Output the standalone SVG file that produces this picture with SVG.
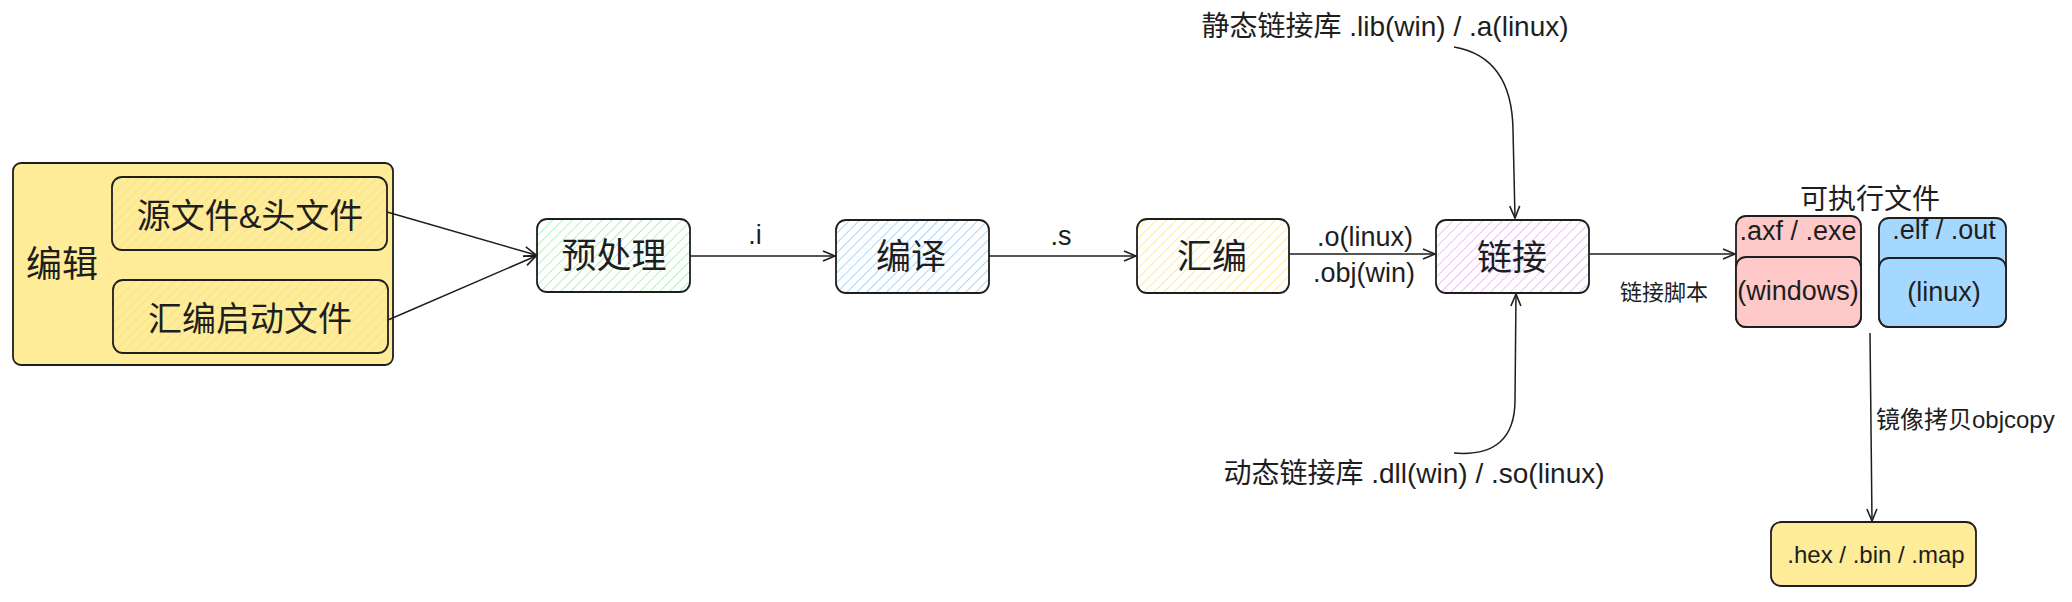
<svg xmlns="http://www.w3.org/2000/svg" width="2072" height="602" viewBox="0 0 2072 602">
<defs>
<style>
.t{font-family:"Liberation Sans","Noto Sans CJK SC",sans-serif;fill:#1e1e1e}
.box{stroke:#1e1e1e;stroke-width:1.8}
.c{fill:none;stroke:#1e1e1e;stroke-width:1.5}
</style>
<pattern id="hg" width="7" height="7" patternUnits="userSpaceOnUse" patternTransform="rotate(45)"><rect width="7" height="7" fill="#fff"/><line x1="0" y1="0" x2="0" y2="7" stroke="#b2f2bb" stroke-width="2"/></pattern>
<pattern id="hb" width="7" height="7" patternUnits="userSpaceOnUse" patternTransform="rotate(45)"><rect width="7" height="7" fill="#fff"/><line x1="0" y1="0" x2="0" y2="7" stroke="#a5d8ff" stroke-width="2"/></pattern>
<pattern id="hy" width="7" height="7" patternUnits="userSpaceOnUse" patternTransform="rotate(45)"><rect width="7" height="7" fill="#fff"/><line x1="0" y1="0" x2="0" y2="7" stroke="#ffec99" stroke-width="2"/></pattern>
<pattern id="hp" width="7" height="7" patternUnits="userSpaceOnUse" patternTransform="rotate(45)"><rect width="7" height="7" fill="#fff"/><line x1="0" y1="0" x2="0" y2="7" stroke="#eebefa" stroke-width="2"/></pattern>
<pattern id="hyy" width="7" height="7" patternUnits="userSpaceOnUse" patternTransform="rotate(45)"><rect width="7" height="7" fill="#ffec99"/><line x1="0" y1="0" x2="0" y2="7" stroke="#f3df88" stroke-width="1.5"/></pattern>
<marker id="arr" markerWidth="16" markerHeight="14" viewBox="-14 -7 16 14" refX="0" refY="0" orient="auto" markerUnits="userSpaceOnUse"><path d="M-12,-5 L0,0 L-12,5" fill="none" stroke="#1e1e1e" stroke-width="1.6"/></marker>
</defs>
<rect width="2072" height="602" fill="#fff"/>

<g id="edit">
<rect class="box" x="13" y="163" width="380" height="202" rx="8" fill="#ffec99"/>
<text class="t" x="62" y="277" font-size="36" text-anchor="middle">编辑</text>
</g>
<g id="src">
<rect class="box" x="112" y="177" width="275" height="73" rx="10" fill="url(#hyy)"/>
<text class="t" x="250" y="228" font-size="34" text-anchor="middle">源文件&amp;头文件</text>
</g>
<g id="asmstart">
<rect class="box" x="113" y="280" width="275" height="73" rx="10" fill="url(#hyy)"/>
<text class="t" x="250" y="331" font-size="34" text-anchor="middle">汇编启动文件</text>
</g>
<g id="preprocess">
<rect class="box" x="537" y="219" width="153" height="73" rx="10" fill="url(#hg)"/>
<text class="t" x="614" y="268" font-size="35" text-anchor="middle">预处理</text>
</g>
<g id="compile">
<rect class="box" x="836" y="220" width="153" height="73" rx="10" fill="url(#hb)"/>
<text class="t" x="911" y="269" font-size="35" text-anchor="middle">编译</text>
</g>
<g id="assemble">
<rect class="box" x="1137" y="219" width="152" height="74" rx="10" fill="url(#hy)"/>
<text class="t" x="1212" y="269" font-size="35" text-anchor="middle">汇编</text>
</g>
<g id="link">
<rect class="box" x="1436" y="220" width="153" height="73" rx="10" fill="url(#hp)"/>
<text class="t" x="1512" y="270" font-size="35" text-anchor="middle">链接</text>
</g>
<g id="exe-label">
<text class="t" x="1870" y="209" font-size="28" text-anchor="middle">可执行文件</text>
</g>
<g id="axf">
<rect class="box" x="1736" y="216" width="125" height="111" rx="10" fill="#ffc9c9"/>
<rect class="box" x="1736" y="257" width="125" height="70" rx="10" fill="#ffc9c9"/>
<text class="t" x="1798" y="240" font-size="27" text-anchor="middle">.axf / .exe</text>
<text class="t" x="1798" y="300" font-size="27" text-anchor="middle">(windows)</text>
</g>
<g id="elf">
<rect class="box" x="1879" y="218" width="127" height="109" rx="10" fill="#a5d8ff"/>
<rect class="box" x="1879" y="258" width="127" height="69" rx="10" fill="#a5d8ff"/>
<text class="t" x="1944" y="239" font-size="27" text-anchor="middle">.elf / .out</text>
<text class="t" x="1944" y="301" font-size="27" text-anchor="middle">(linux)</text>
</g>
<g id="hex">
<rect class="box" x="1771" y="522" width="205" height="64" rx="10" fill="#ffec99"/>
<text class="t" x="1876" y="563" font-size="24" text-anchor="middle">.hex / .bin / .map</text>
</g>
<g id="static-lib">
<text class="t" x="1385" y="36" font-size="28" text-anchor="middle">静态链接库 .lib(win) / .a(linux)</text>
</g>
<g id="dynamic-lib">
<text class="t" x="1414" y="483" font-size="28" text-anchor="middle">动态链接库 .dll(win) / .so(linux)</text>
</g>

<g id="connectors">
<path class="c" d="M387,212 L536,255" stroke-width="2.6" marker-end="url(#arr)"/>
<path class="c" d="M388,320 L536,256" marker-end="url(#arr)"/>
<path class="c" d="M690,256 L835,256" marker-end="url(#arr)"/>
<path class="c" d="M989,256 L1136,256" marker-end="url(#arr)"/>
<path class="c" d="M1289,254 L1435,254" marker-end="url(#arr)"/>
<path class="c" d="M1454,47 Q1512,57 1513,130 L1515,218" marker-end="url(#arr)"/>
<path class="c" d="M1454,453 Q1515,458 1515,400 L1516,294" marker-end="url(#arr)"/>
<path class="c" d="M1590,254 L1735,254" marker-end="url(#arr)"/>
<path class="c" d="M1870,333 L1872,521" marker-end="url(#arr)"/>
<text class="t" x="755" y="244" font-size="27" text-anchor="middle">.i</text>
<text class="t" x="1061" y="245" font-size="27" text-anchor="middle">.s</text>
<text class="t" x="1365" y="246" font-size="27" text-anchor="middle">.o(linux)</text>
<text class="t" x="1364" y="282" font-size="27" text-anchor="middle">.obj(win)</text>
<text class="t" x="1664" y="300" font-size="22" text-anchor="middle">链接脚本</text>
<text class="t" x="1876" y="428" font-size="24">镜像拷贝objcopy</text>
</g>
</svg>
